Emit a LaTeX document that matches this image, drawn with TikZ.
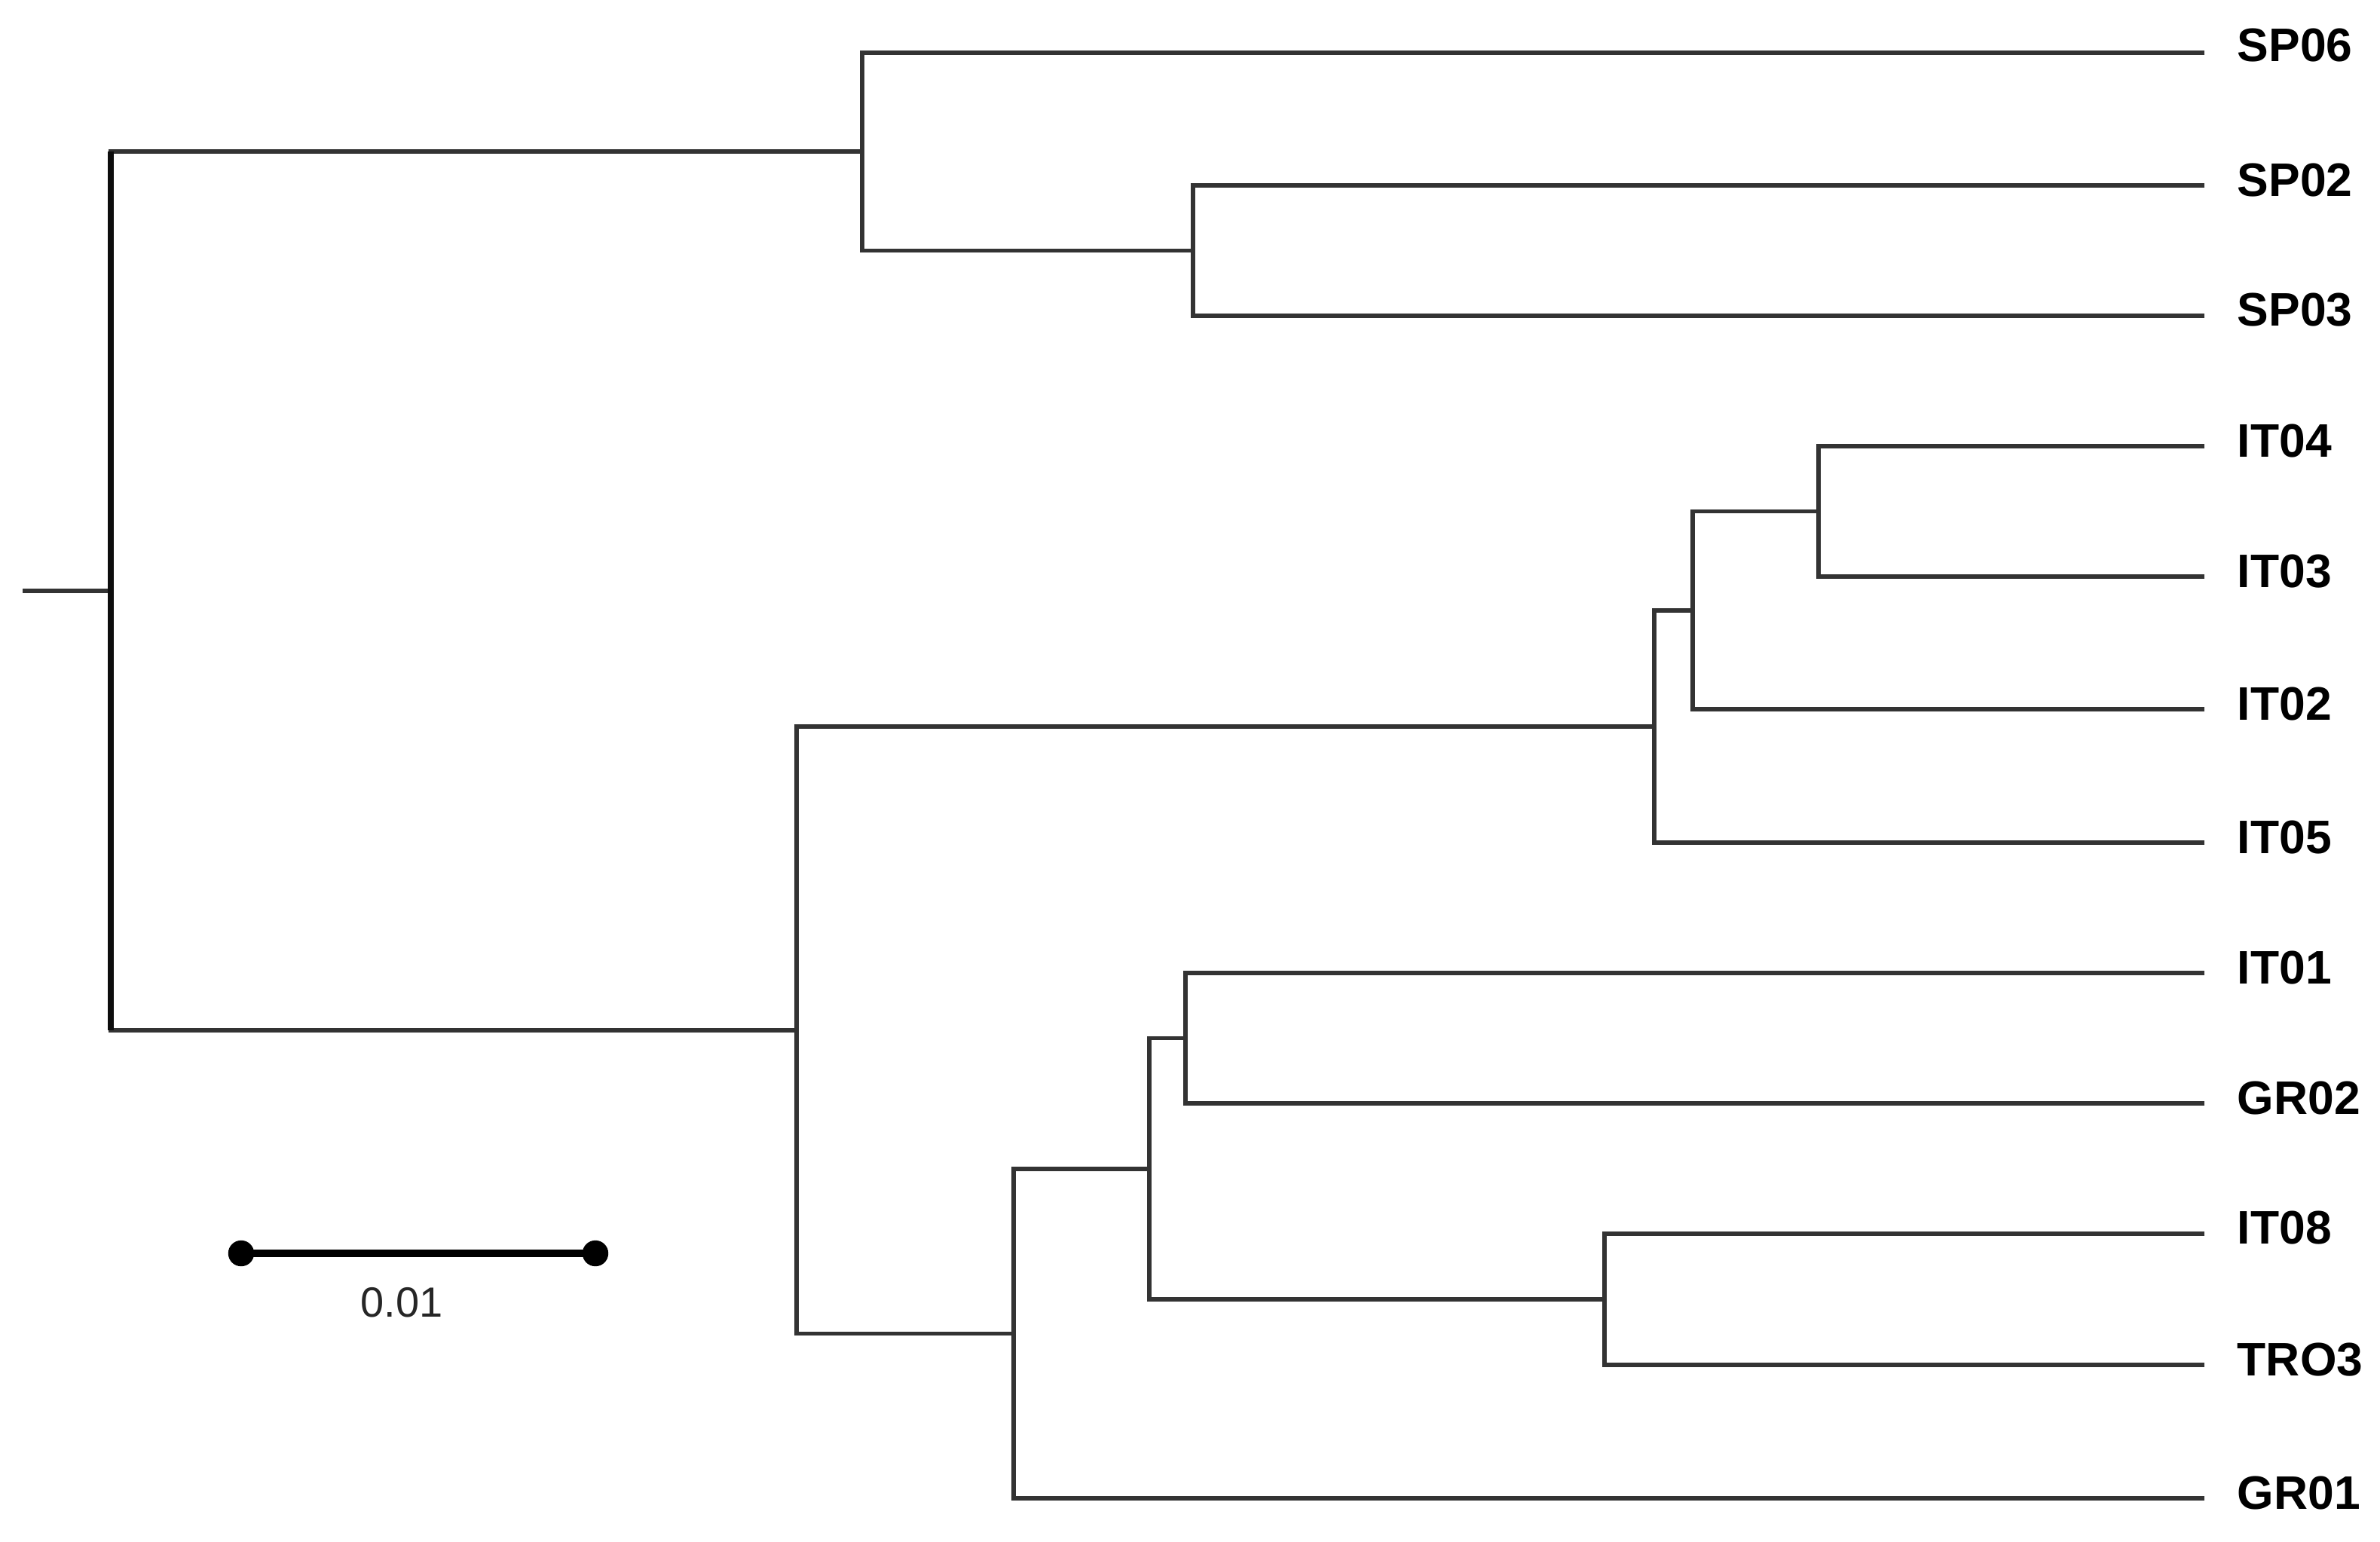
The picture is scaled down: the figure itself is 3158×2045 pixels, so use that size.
\documentclass[tikz,border=0pt]{standalone}
\usepackage{fontspec}
\setmainfont{Liberation Sans}
\begin{document}
\begin{tikzpicture}[x=0.25pt,y=-0.25pt,
  branch/.style={draw=black!80, line width=1.4pt, line join=miter},
  rootv/.style={draw=black!95, line width=2pt},
  leaflabel/.style={anchor=west, inner sep=0pt, font=\fontsize{15.6}{18}\selectfont\bfseries},
  sbdot/.style={circle, fill=black, inner sep=0pt, minimum size=8.6pt},
  sbline/.style={draw=black, line width=2.3pt},
  sblabel/.style={inner sep=0pt, font=\fontsize{14}{16}\selectfont, text=black!85}]
\useasboundingbox (0,0) rectangle (3158,2045);
% internal nodes
\coordinate (root0) at (30,784);
\coordinate (root) at (147,784);
\coordinate (A) at (1144,201);
\coordinate (B) at (1583,332.5);
\coordinate (C) at (1057,1367);
\coordinate (D) at (2195,964);
\coordinate (E) at (2246,810);
\coordinate (F) at (2413,678.5);
\coordinate (G) at (1345,1769.5);
\coordinate (H) at (1525,1551);
\coordinate (I) at (1573,1377.5);
\coordinate (J) at (2129,1724);
% leaf ends
\coordinate (eSP06) at (2925,70);
\coordinate (eSP02) at (2925,246);
\coordinate (eSP03) at (2925,419);
\coordinate (eIT04) at (2925,592);
\coordinate (eIT03) at (2925,765);
\coordinate (eIT02) at (2925,941);
\coordinate (eIT05) at (2925,1118);
\coordinate (eIT01) at (2925,1291);
\coordinate (eGR02) at (2925,1464);
\coordinate (eIT08) at (2925,1637);
\coordinate (eTRO3) at (2925,1811);
\coordinate (eGR01) at (2925,1988);
% labels
\node[leaflabel] (SP06) at (2968,60) {SP06};
\node[leaflabel] (SP02) at (2968,239) {SP02};
\node[leaflabel] (SP03) at (2968,411) {SP03};
\node[leaflabel] (IT04) at (2968,585) {IT04};
\node[leaflabel] (IT03) at (2968,758) {IT03};
\node[leaflabel] (IT02) at (2968,934) {IT02};
\node[leaflabel] (IT05) at (2968,1111) {IT05};
\node[leaflabel] (IT01) at (2968,1284) {IT01};
\node[leaflabel] (GR02) at (2968,1457) {GR02};
\node[leaflabel] (IT08) at (2968,1629) {IT08};
\node[leaflabel] (TRO3) at (2968,1804) {TRO3};
\node[leaflabel] (GR01) at (2968,1981) {GR01};
% branches
\draw[branch] (root0) -- (root);
\draw[branch] (A) -| (root) |- (C);
\draw[rootv] (root |- A) -- (root |- C);
\draw[branch] (eSP06) -| (A) |- (B);
\draw[branch] (eSP02) -| (B) |- (eSP03);
\draw[branch] (D) -| (C) |- (G);
\draw[branch] (E) -| (D) |- (eIT05);
\draw[branch] (F) -| (E) |- (eIT02);
\draw[branch] (eIT04) -| (F) |- (eIT03);
\draw[branch] (H) -| (G) |- (eGR01);
\draw[branch] (I) -| (H) |- (J);
\draw[branch] (eIT01) -| (I) |- (eGR02);
\draw[branch] (eIT08) -| (J) |- (eTRO3);
% scale bar
\node[sbdot] (s1) at (320,1663) {};
\node[sbdot] (s2) at (790,1663) {};
\draw[sbline] (s1.center) -- (s2.center);
\node[sblabel] (sbl) at (533,1728) {0.01};
\end{tikzpicture}
\end{document}
